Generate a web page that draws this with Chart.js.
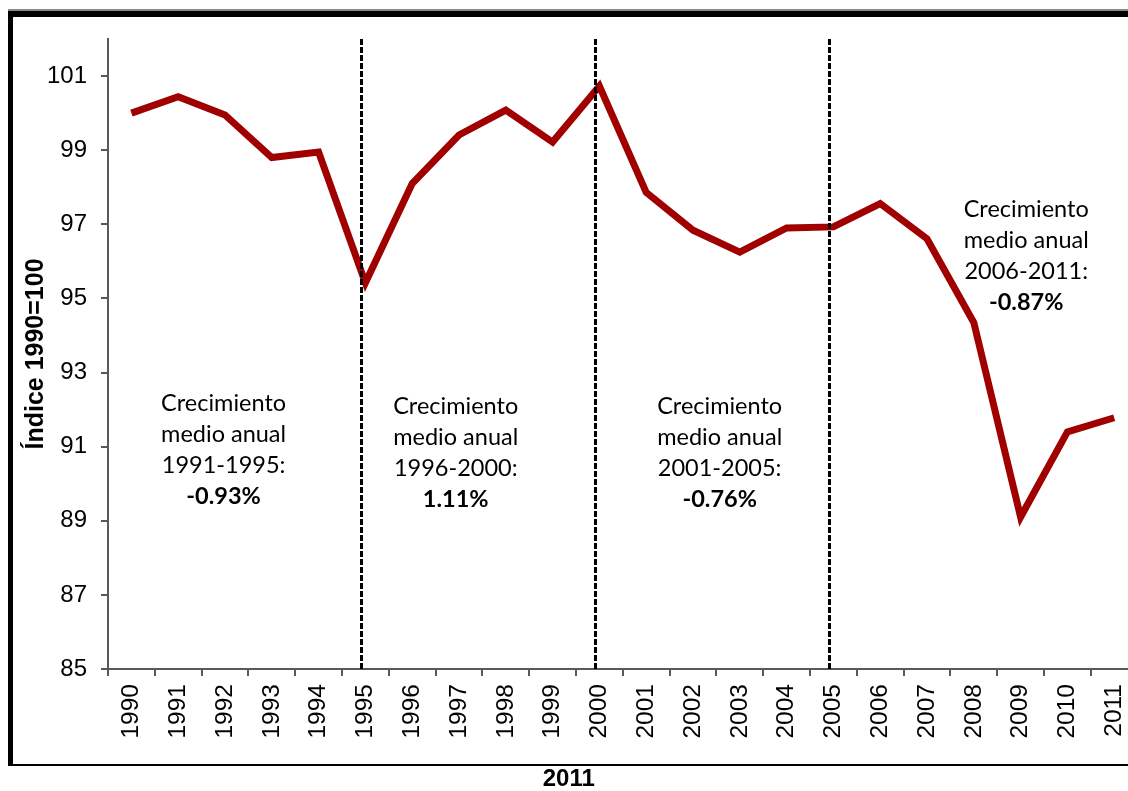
<!DOCTYPE html>
<html><head><meta charset="utf-8">
<script src="https://cdn.jsdelivr.net/npm/chart.js@4/dist/chart.umd.min.js"></script>
<style>
html,body{margin:0;padding:0;background:#fff;overflow:hidden;width:1128px;height:791px;}
#wrap{position:relative;width:1128px;height:791px;overflow:hidden;background:#fff;}
#c{position:absolute;left:0;top:0;}
.frametop{position:absolute;left:8px;top:9px;width:1200px;height:2px;background:#8a8a8a;pointer-events:none;}
.frame{position:absolute;left:8px;top:11px;width:1200px;height:755px;box-sizing:border-box;border-top:6px solid #000;border-left:5px solid #000;border-bottom:2px solid #000;pointer-events:none;}
</style></head><body>
<div id="wrap"><canvas id="c" width="1140" height="791"></canvas><div class="frametop"></div><div class="frame"></div></div>
<script>
// ---- data ----
const years = ['1990','1991','1992','1993','1994','1995','1996','1997','1998','1999','2000',
               '2001','2002','2003','2004','2005','2006','2007','2008','2009','2010','2011'];
const indexValues = [100.0, 100.44, 99.95, 98.80, 98.95, 95.42, 98.10, 99.41, 100.08, 99.22, 100.73,
                     97.86, 96.84, 96.25, 96.90, 96.93, 97.56, 96.61, 94.35, 89.10, 91.40, 91.78];
const yTickValues = [85, 87, 89, 91, 93, 95, 97, 99, 101];
const dividerYears = ['1995', '2000', '2005'];
const yAxisTitle = 'Índice 1990=100';
const xAxisTitle = '2011';
const noteTexts = [
  ['Crecimiento', 'medio anual', '1991-1995:', '-0.93%'],
  ['Crecimiento', 'medio anual', '1996-2000:', '1.11%'],
  ['Crecimiento', 'medio anual', '2001-2005:', '-0.76%'],
  ['Crecimiento', 'medio anual', '2006-2011:', '-0.87%']
];
// anchor of each note: [category index, value of first baseline]
const noteAnchors = [[1.97, 91.95], [6.93, 91.87], [12.57, 91.89], [19.12, 97.19]];

const dividerPlugin = {
  id: 'dividers',
  afterDatasetsDraw(chart) {
    const {ctx, chartArea, scales: {x}} = chart;
    ctx.save();
    ctx.strokeStyle = '#000';
    ctx.lineWidth = 3;
    ctx.setLineDash([6, 2]);
    dividerYears.forEach(yr => {
      const px = Math.round(x.getPixelForValue(years.indexOf(yr) - 0.09)) + 0.5;
      ctx.beginPath();
      ctx.moveTo(px, chartArea.top);
      ctx.lineTo(px, chartArea.bottom);
      ctx.stroke();
    });
    ctx.restore();
  }
};

const notePlugin = {
  id: 'notes',
  afterDatasetsDraw(chart) {
    const {ctx, scales: {x, y}} = chart;
    ctx.save();
    ctx.fillStyle = '#000';
    ctx.textAlign = 'center';
    ctx.textBaseline = 'alphabetic';
    noteTexts.forEach((lines, i) => {
      const cx = x.getPixelForValue(noteAnchors[i][0]);
      const by = y.getPixelForValue(noteAnchors[i][1]);
      lines.forEach((t, j) => {
        ctx.font = (j === lines.length - 1 ? 'bold ' : '') + '23.5px Lato';
        ctx.fillText(t, cx, by + j * 31);
      });
    });
    ctx.restore();
  }
};

new Chart(document.getElementById('c'), {
  type: 'line',
  data: {
    labels: years,
    datasets: [{
      data: indexValues,
      borderColor: '#A00000',
      borderWidth: 7,
      pointRadius: 0,
      pointHoverRadius: 0,
      tension: 0,
      fill: false,
      borderJoinStyle: 'miter'
    }]
  },
  options: {
    responsive: false,
    devicePixelRatio: 1,
    animation: false,
    layout: {padding: {left: 0, top: 39, right: 2.4, bottom: 0}},
    plugins: {
      legend: {display: false},
      tooltip: {enabled: false},
      title: {
        display: true,
        position: 'bottom',
        text: xAxisTitle,
        color: '#000',
        font: {family: 'Liberation Sans', size: 24, weight: 'bold', lineHeight: 1.0},
        padding: {top: 0, bottom: 0}
      }
    },
    scales: {
      x: {
        type: 'category',
        offset: true,
        grid: {offset: true, drawOnChartArea: false, drawTicks: true, tickLength: 7, color: '#595959', lineWidth: 2},
        border: {display: true, color: '#595959', width: 2},
        ticks: {
          autoSkip: false, minRotation: 90, maxRotation: 90, padding: 8,
          color: '#000', font: {family: 'Liberation Sans', size: 24.5}
        },
        afterFit(scale) { scale.height = 98; scale.paddingLeft = 0; scale.paddingRight = 0; }
      },
      y: {
        min: 85, max: 102,
        grid: {drawOnChartArea: false, drawTicks: true, tickLength: 7, color: '#595959', lineWidth: 2},
        border: {display: true, color: '#595959', width: 2},
        ticks: {padding: 14, color: '#000', font: {family: 'Liberation Sans', size: 24}},
        title: {
          display: true, text: yAxisTitle, color: '#000',
          font: {family: 'Liberation Sans', size: 25, weight: 'bold'},
          padding: {top: 21, bottom: 0}
        },
        afterBuildTicks(scale) { scale.ticks = yTickValues.map(v => ({value: v})); },
        afterFit(scale) { scale.width = 108; scale.paddingTop = 0; scale.paddingBottom = 0; }
      }
    }
  },
  plugins: [dividerPlugin, notePlugin]
});
</script>
</body></html>
